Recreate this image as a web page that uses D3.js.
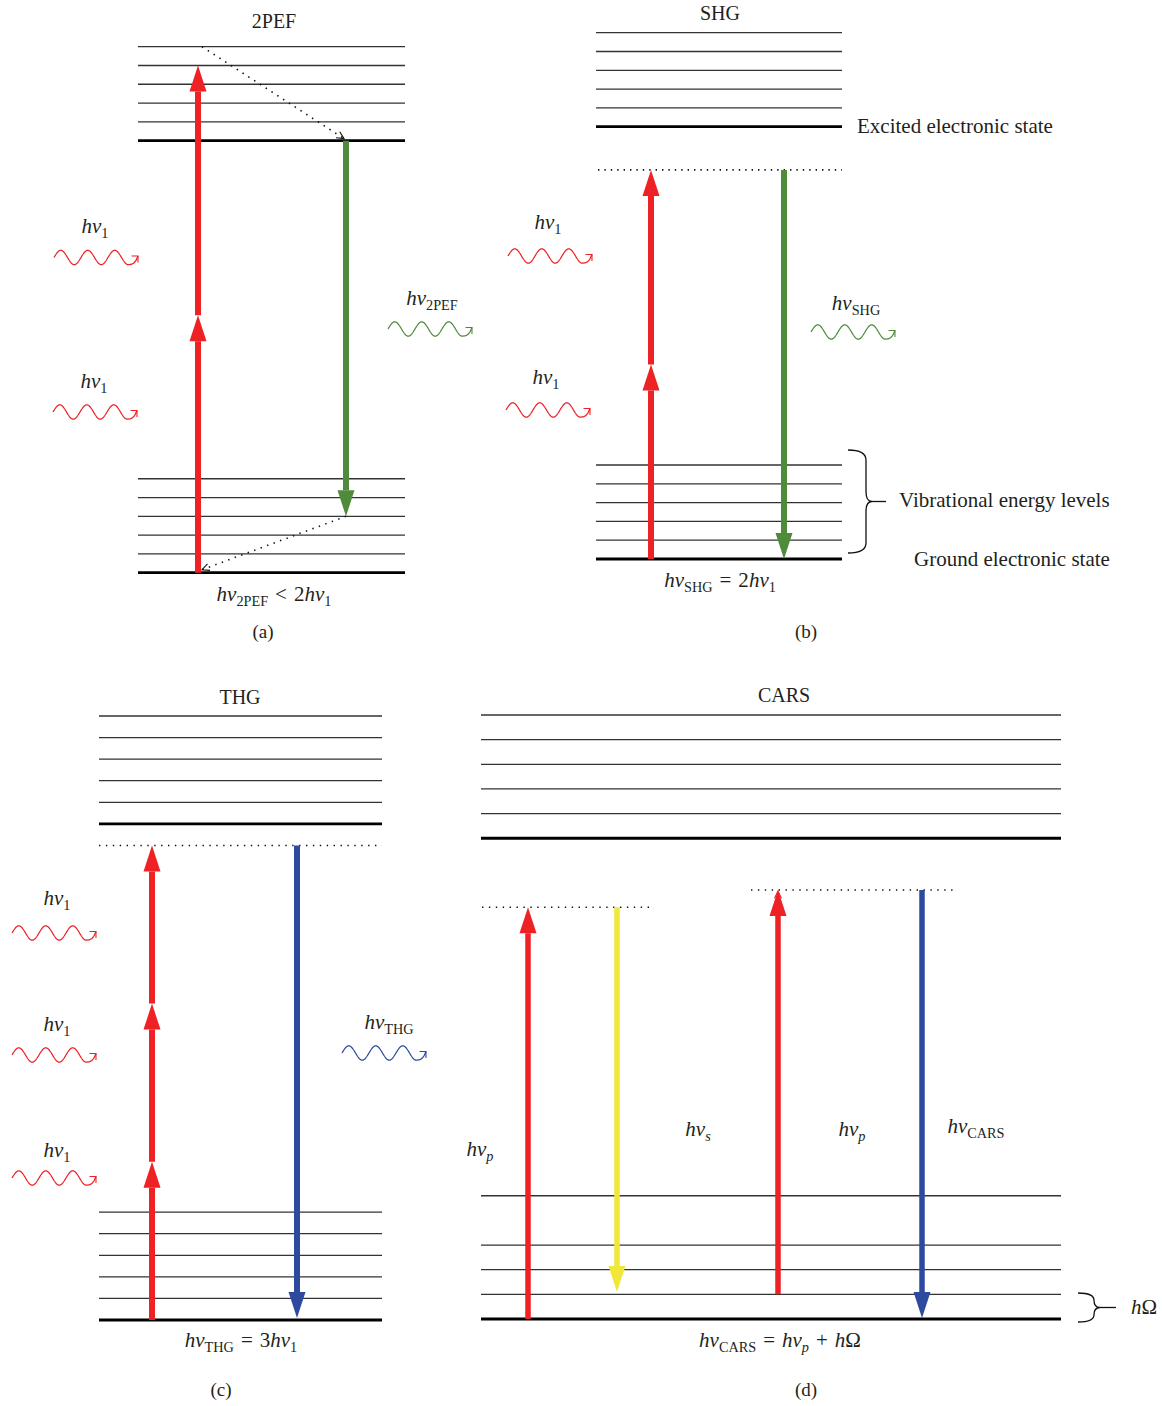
<!DOCTYPE html>
<html>
<head>
<meta charset="utf-8">
<script src="https://cdn.jsdelivr.net/npm/d3@7"></script>
<style>
  body { margin: 0; background: #fff; }
  text { font-family: "Liberation Serif", "DejaVu Serif", serif; fill: #231f20; }
</style>
</head>
<body>
<svg width="1162" height="1406"></svg>
<script>
// energy levels in arbitrary units, ground state = 0
const levels2PEF = [0, 1, 2, 3, 4, 5, 23, 24, 25, 26, 27, 28];
const levelsSHG = [0, 1, 2, 3, 4, 5, 23, 24, 25, 26, 27, 28];
const levelsTHG = [0, 1, 2, 3, 4, 5, 23, 24, 25, 26, 27, 28];
const levelsCARS = [0, 1, 2, 3, 5, 19.5, 20.5, 21.5, 22.5, 23.5, 24.5];
// electronic states (drawn thicker)
const thick2PEF = [0, 23];
const thickSHG = [0, 23];
const thickTHG = [0, 23];
const thickCARS = [0, 19.5];
// virtual states
const virtualSHG = [20.7];
const virtualTHG = [22];
const virtualCARS = [16.7, 17.4];

// transitions: photon steps (from -> to)
const steps2PEF = [[0, 13.7], [13.7, 27]];
const emit2PEF = [23, 3];
const relax2PEF = [[28, 23], [3, 0]];
const stepsSHG = [[0, 10.35], [10.35, 20.7]];
const emitSHG = [20.7, 0];
const stepsTHG = [[0, 22 / 3], [22 / 3, 44 / 3], [44 / 3, 22]];
const emitTHG = [22, 0];
const pumpCARS = [0, 16.7];
const stokesCARS = [16.7, 1.1];
const probeCARS = [1, 17.4];
const antiStokesCARS = [17.4, 0];

const RED = "#ee2124", GREEN = "#4f8b3b", BLUE = "#2e4a9f", YELLOW = "#f0e73a";
const SP = "\u2004";

const svg = d3.select("svg");

// ---------- helpers ----------
function label(g, x, y, parts, anchor, size) {
  size = size || 21;
  const t = g.append("text")
    .attr("x", x).attr("y", y)
    .attr("text-anchor", anchor || "middle")
    .attr("font-size", size);
  let sub = false;
  parts.forEach(([s, st]) => {
    const ts = t.append("tspan").text(s);
    const isSub = st === "s" || st === "si";
    if (st === "i" || st === "si") ts.attr("font-style", "italic");
    if (isSub) ts.attr("font-size", size * 0.68);
    if (isSub && !sub) ts.attr("dy", size * 0.22);
    if (!isSub && sub) ts.attr("dy", -size * 0.22);
    sub = isSub;
  });
  return t;
}

function arrow(g, x, y0, y1, color, w, headL, headW) {
  w = w || 6; headL = headL || 26; headW = headW || 17;
  const dir = y1 < y0 ? -1 : 1;
  const base = y1 - dir * headL;
  g.append("line")
    .attr("x1", x).attr("x2", x)
    .attr("y1", y0).attr("y2", base)
    .attr("stroke", color).attr("stroke-width", w);
  g.append("path")
    .attr("d", `M${x - headW / 2},${base}L${x},${y1}L${x + headW / 2},${base}Z`)
    .attr("fill", color);
}

function chevron(g, x, y, angle, color, len, spread) {
  len = len || 7; spread = spread || 0.45;
  const a1 = angle + Math.PI - spread, a2 = angle + Math.PI + spread;
  g.append("path")
    .attr("d", `M${x + len * Math.cos(a1)},${y + len * Math.sin(a1)}L${x},${y}L${x + len * Math.cos(a2)},${y + len * Math.sin(a2)}`)
    .attr("fill", "none").attr("stroke", color).attr("stroke-width", 1.1);
}

function dotted(g, x0, y0, x1, y1, gap) {
  g.append("line")
    .attr("x1", x0).attr("y1", y0).attr("x2", x1).attr("y2", y1)
    .attr("stroke", "#111").attr("stroke-width", 1.6)
    .attr("stroke-dasharray", `1.4,${gap || 5}`);
}

// wavy photon glyph
function photon(g, x0, y, color) {
  const P = 27, A = 7.2;
  const pts = d3.range(0, P * 2.75 + 0.01, 0.5).map(t => [x0 + t, y - A * Math.sin(2 * Math.PI * t / P)]);
  const p = d3.path();
  p.moveTo(pts[0][0], pts[0][1]);
  pts.slice(1).forEach(q => p.lineTo(q[0], q[1]));
  const xe = x0 + P * 2.75, tip = [x0 + 84, y - 1.5];
  p.bezierCurveTo(xe + 4, y + A, xe + 7, y + A - 1, tip[0], tip[1]);
  g.append("path").attr("d", p.toString())
    .attr("fill", "none").attr("stroke", color).attr("stroke-width", 1.2);
  chevron(g, tip[0], tip[1], -Math.PI / 4, color, 6.5, 0.78);
}

function brace(g, x, y0, y1, w, tick) {
  const ym = (y0 + y1) / 2, r = Math.min(10, (y1 - y0) / 4);
  const d = `M${x},${y0}Q${x + w},${y0} ${x + w},${y0 + r}L${x + w},${ym - r}Q${x + w},${ym} ${x + w + 6},${ym}` +
    `Q${x + w},${ym} ${x + w},${ym + r}L${x + w},${y1 - r}Q${x + w},${y1} ${x},${y1}`;
  g.append("path").attr("d", d).attr("fill", "none").attr("stroke", "#111").attr("stroke-width", 1.3);
  g.append("line").attr("x1", x + w + 6).attr("x2", x + w + 6 + tick)
    .attr("y1", ym).attr("y2", ym).attr("stroke", "#111").attr("stroke-width", 1.3);
}

function drawLevels(g, levels, thick, y, x0, x1) {
  g.selectAll("line.level").data(levels).enter().append("line")
    .attr("class", "level")
    .attr("x1", x0).attr("x2", x1)
    .attr("y1", d => y(d)).attr("y2", d => y(d))
    .attr("stroke", d => thick.includes(d) ? "#000" : "#333")
    .attr("stroke-width", d => thick.includes(d) ? 2.8 : 1.3);
}

const HV1 = [["h", "i"], ["ν", "i"], ["1", "s"]];

// ---------- (a) 2PEF ----------
{
  const g = svg.append("g");
  const y = d3.scaleLinear().domain([0, 28]).range([572.7, 46.7]);
  drawLevels(g, levels2PEF, thick2PEF, y, 138, 405);
  const xr = 198, xg = 346;
  steps2PEF.forEach(s => arrow(g, xr, y(s[0]), y(s[1]), RED));
  arrow(g, xg, y(emit2PEF[0]), y(emit2PEF[1]), GREEN);
  dotted(g, xr + 4, y(relax2PEF[0][0]), xg - 2, y(relax2PEF[0][1]) - 2, 5.5);
  chevron(g, xg - 2, y(relax2PEF[0][1]) - 2, Math.atan2(y(23) - y(28), xg - xr), "#111", 8);
  dotted(g, xg, y(relax2PEF[1][0]), xr + 4, y(relax2PEF[1][1]) - 3, 5.5);
  chevron(g, xr + 4, y(relax2PEF[1][1]) - 3, Math.atan2(y(0) - y(3), xr - xg), "#111", 8);
  label(g, 274, 28, [["2PEF", "r"]], "middle", 20);
  label(g, 95, 233, HV1);
  photon(g, 54, 257.5, RED);
  label(g, 94, 388, HV1);
  photon(g, 53, 412, RED);
  label(g, 432, 305, [["h", "i"], ["ν", "i"], ["2PEF", "s"]]);
  photon(g, 388, 329, GREEN);
  label(g, 274, 601, [["h", "i"], ["ν", "i"], ["2PEF", "s"], [SP + "<" + SP + "2", "r"], ["h", "i"], ["ν", "i"], ["1", "s"]]);
  label(g, 263, 638, [["(a)", "r"]], "middle", 19);
}

// ---------- (b) SHG ----------
{
  const g = svg.append("g");
  const y = d3.scaleLinear().domain([0, 28]).range([559, 32.7]);
  drawLevels(g, levelsSHG, thickSHG, y, 596, 842);
  virtualSHG.forEach(v => dotted(g, 598, y(v), 842, y(v), 5));
  const xr = 651, xg = 784;
  stepsSHG.forEach(s => arrow(g, xr, y(s[0]), y(s[1]), RED));
  arrow(g, xg, y(emitSHG[0]), y(emitSHG[1]), GREEN);
  label(g, 720, 20, [["SHG", "r"]], "middle", 20);
  label(g, 857, 133, [["Excited electronic state", "r"]], "start", 21);
  brace(g, 848, 450, 553, 18, 14);
  label(g, 899, 507, [["Vibrational energy levels", "r"]], "start", 21);
  label(g, 914, 566, [["Ground electronic state", "r"]], "start", 21);
  label(g, 548, 229, HV1);
  photon(g, 508, 256, RED);
  label(g, 546, 384, HV1);
  photon(g, 506, 410, RED);
  label(g, 856, 310, [["h", "i"], ["ν", "i"], ["SHG", "s"]]);
  photon(g, 811, 332, GREEN);
  label(g, 720, 587, [["h", "i"], ["ν", "i"], ["SHG", "s"], [SP + "=" + SP + "2", "r"], ["h", "i"], ["ν", "i"], ["1", "s"]]);
  label(g, 806, 638, [["(b)", "r"]], "middle", 19);
}

// ---------- (c) THG ----------
{
  const g = svg.append("g");
  const y = d3.scaleLinear().domain([0, 28]).range([1320, 716]);
  drawLevels(g, levelsTHG, thickTHG, y, 99, 382);
  virtualTHG.forEach(v => dotted(g, 99, y(v), 382, y(v), 5.5));
  const xr = 152, xb = 297;
  stepsTHG.forEach(s => arrow(g, xr, y(s[0]), y(s[1]), RED));
  arrow(g, xb, y(emitTHG[0]), y(emitTHG[1]) - 2, BLUE);
  label(g, 240, 704, [["THG", "r"]], "middle", 20);
  label(g, 57, 905, HV1);
  photon(g, 12, 933, RED);
  label(g, 57, 1031, HV1);
  photon(g, 12, 1055, RED);
  label(g, 57, 1157, HV1);
  photon(g, 12, 1178, RED);
  label(g, 389, 1029, [["h", "i"], ["ν", "i"], ["THG", "s"]]);
  photon(g, 342, 1053, BLUE);
  label(g, 241, 1347, [["h", "i"], ["ν", "i"], ["THG", "s"], [SP + "=" + SP + "3", "r"], ["h", "i"], ["ν", "i"], ["1", "s"]]);
  label(g, 221, 1396, [["(c)", "r"]], "middle", 19);
}

// ---------- (d) CARS ----------
{
  const g = svg.append("g");
  const y = d3.scaleLinear().domain([0, 24.5]).range([1319, 715]);
  drawLevels(g, levelsCARS, thickCARS, y, 481, 1061);
  dotted(g, 482, y(virtualCARS[0]), 652, y(virtualCARS[0]), 5.5);
  dotted(g, 751, y(virtualCARS[1]), 953, y(virtualCARS[1]), 5.5);
  arrow(g, 528, y(pumpCARS[0]), y(pumpCARS[1]), RED, 5.5);
  arrow(g, 617, y(stokesCARS[0]), y(stokesCARS[1]), YELLOW, 5.5);
  arrow(g, 778, y(probeCARS[0]), y(probeCARS[1]), RED, 5.5);
  chevron(g, 778, y(probeCARS[1]) + 1, -Math.PI / 2, RED, 8);
  arrow(g, 922, y(antiStokesCARS[0]), y(antiStokesCARS[1]) - 1, BLUE, 5.5);
  label(g, 784, 702, [["CARS", "r"]], "middle", 20);
  label(g, 480, 1156, [["h", "i"], ["ν", "i"], ["p", "si"]]);
  label(g, 698, 1136, [["h", "i"], ["ν", "i"], ["s", "si"]]);
  label(g, 852, 1136, [["h", "i"], ["ν", "i"], ["p", "si"]]);
  label(g, 976, 1133, [["h", "i"], ["ν", "i"], ["CARS", "s"]]);
  brace(g, 1078, 1293, 1322, 16, 16);
  label(g, 1131, 1314, [["h", "i"], ["Ω", "r"]], "start");
  label(g, 780, 1347, [["h", "i"], ["ν", "i"], ["CARS", "s"], [SP + "=" + SP, "r"], ["h", "i"], ["ν", "i"], ["p", "si"], [SP + "+" + SP, "r"], ["h", "i"], ["Ω", "r"]]);
  label(g, 806, 1396, [["(d)", "r"]], "middle", 19);
}
</script>
</body>
</html>
